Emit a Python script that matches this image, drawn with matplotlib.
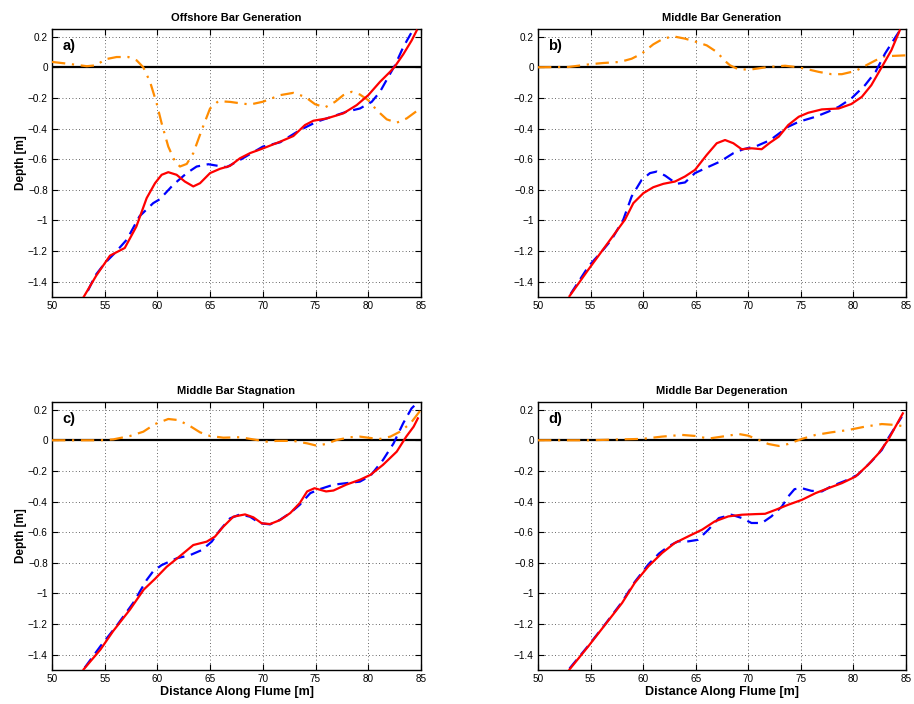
import matplotlib
matplotlib.use("Agg")
import matplotlib.pyplot as plt
from matplotlib.ticker import FuncFormatter

plt.rcParams['font.family'] = ['Liberation Sans', 'DejaVu Sans']

titles = ["Offshore Bar Generation", "Middle Bar Generation",
          "Middle Bar Stagnation", "Middle Bar Degeneration"]
panel_tags = ["a)", "b)", "c)", "d)"]

# ---- a) Offshore Bar Generation ----
a_red_x = [53.0, 54.2, 55.5, 56.9, 58.0, 58.98, 59.77, 60.4, 61.03, 61.82, 62.6, 63.4,
           64.04, 64.99, 65.93, 66.88, 67.83, 68.8, 70.0, 71.63, 72.89, 74.0, 74.79,
           76.06, 77.63, 78.9, 80.0, 81.11, 82.06, 82.53, 83.32, 84.12, 84.59]
a_red_y = [-1.50, -1.36, -1.23, -1.18, -1.04, -0.854, -0.757, -0.702, -0.685, -0.702,
           -0.746, -0.778, -0.757, -0.691, -0.663, -0.644, -0.594, -0.56, -0.53,
           -0.486, -0.449, -0.377, -0.349, -0.334, -0.301, -0.247, -0.182, -0.095,
           -0.03, 0.006, 0.085, 0.176, 0.24]
a_blue_x = [53.4, 54.1, 55.0, 56.0, 57.1, 58.3, 59.6, 60.24, 61.5, 62.78, 63.72, 64.83,
            65.78, 66.57, 67.83, 70.0, 71.63, 73.52, 75.1, 77.95, 79.21, 80.32, 81.11,
            81.9, 82.53, 83.32, 84.12, 84.6]
a_blue_y = [-1.46, -1.36, -1.28, -1.21, -1.125, -0.973, -0.887, -0.861, -0.767, -0.691,
            -0.648, -0.633, -0.644, -0.652, -0.605, -0.518, -0.49, -0.41, -0.356,
            -0.29, -0.269, -0.226, -0.16, -0.063, 0.013, 0.132, 0.23, 0.27]
a_or_x = [50.0, 51.4, 53.3, 54.2, 55.03, 56.13, 57.24, 58.03, 58.66, 59.3, 59.93, 60.4,
          61.03, 61.67, 62.14, 62.78, 63.4, 64.2, 64.99, 65.78, 66.9, 67.83, 68.8,
          70.0, 71.63, 72.89, 74.0, 74.95, 75.89, 76.84, 77.63, 78.43, 79.21, 80.0,
          80.8, 81.75, 82.69, 83.64, 84.59, 85.0]
a_or_y = [0.035, 0.024, 0.007, 0.013, 0.052, 0.067, 0.067, 0.045, 0.0, -0.095, -0.236,
          -0.366, -0.518, -0.616, -0.648, -0.631, -0.561, -0.41, -0.269, -0.221,
          -0.226, -0.235, -0.243, -0.225, -0.182, -0.167, -0.193, -0.241, -0.262,
          -0.226, -0.182, -0.16, -0.178, -0.215, -0.28, -0.34, -0.362, -0.334,
          -0.286, -0.28]

# ---- b) Middle Bar Generation ----
b_red_x = [53.0, 54.8, 56.4, 58.27, 59.07, 60.02, 60.97, 61.92, 63.03, 63.98, 64.93,
           66.05, 67.0, 67.79, 68.58, 69.37, 70.32, 71.27, 72.07, 72.9, 73.8, 74.8,
           75.7, 77.0, 78.6, 79.8, 80.8, 81.7, 82.7, 83.6, 84.4]
b_red_y = [-1.494, -1.32, -1.17, -0.995, -0.887, -0.822, -0.783, -0.761, -0.746,
           -0.713, -0.67, -0.572, -0.496, -0.475, -0.496, -0.535, -0.529, -0.535,
           -0.492, -0.453, -0.377, -0.323, -0.297, -0.275, -0.269, -0.24, -0.193,
           -0.117, 0.002, 0.11, 0.24]
b_blue_x = [53.1, 54.8, 56.1, 57.0, 58.11, 58.91, 59.86, 60.65, 61.29, 62.08, 63.19,
            63.98, 64.93, 66.05, 67.31, 68.58, 69.53, 70.8, 72.07, 73.8, 74.8, 76.4,
            77.6, 78.6, 79.8, 81.1, 82.1, 83.0, 84.0, 84.6]
b_blue_y = [-1.48, -1.30, -1.2, -1.125, -0.995, -0.843, -0.735, -0.691, -0.681, -0.707,
            -0.761, -0.752, -0.691, -0.655, -0.616, -0.561, -0.535, -0.514, -0.476,
            -0.388, -0.356, -0.323, -0.29, -0.258, -0.204, -0.117, -0.03, 0.089,
            0.197, 0.26]
b_or_x = [50.0, 52.9, 54.95, 56.21, 57.8, 58.91, 59.86, 60.97, 61.92, 62.87, 63.98,
          65.09, 66.05, 67.0, 67.79, 68.26, 69.05, 70.16, 71.9, 73.5, 74.5, 75.4,
          76.7, 77.9, 78.9, 80.2, 81.1, 82.1, 83.0, 85.0]
b_or_y = [0.0, 0.002, 0.02, 0.028, 0.035, 0.056, 0.089, 0.15, 0.187, 0.202, 0.187,
          0.165, 0.143, 0.1, 0.041, 0.013, -0.013, -0.015, 0.002, 0.01, 0.002,
          -0.009, -0.03, -0.045, -0.045, -0.024, 0.009, 0.045, 0.072, 0.078]

# ---- c) Middle Bar Stagnation ----
c_red_x = [53.0, 54.6, 55.8, 57.4, 58.7, 59.77, 60.88, 62.14, 63.4, 64.67, 65.46,
           66.25, 67.2, 68.31, 69.1, 69.89, 70.68, 71.63, 72.6, 73.5, 74.2, 74.9,
           76.0, 76.7, 77.9, 79.2, 80.2, 81.4, 82.7, 83.6, 84.3, 84.7]
c_red_y = [-1.496, -1.366, -1.246, -1.105, -0.975, -0.905, -0.826, -0.756, -0.684,
           -0.662, -0.629, -0.564, -0.499, -0.484, -0.503, -0.542, -0.547, -0.521,
           -0.475, -0.41, -0.334, -0.313, -0.334, -0.328, -0.29, -0.258, -0.226,
           -0.16, -0.074, 0.024, 0.089, 0.143]
c_blue_x = [53.1, 54.6, 56.1, 57.7, 58.98, 59.6, 60.4, 61.82, 63.09, 64.2, 65.15,
            65.94, 66.88, 67.83, 68.78, 69.73, 70.68, 71.6, 72.6, 73.5, 74.5, 75.4,
            76.7, 77.9, 79.2, 80.2, 81.4, 82.4, 83.3, 84.1, 84.5]
c_blue_y = [-1.485, -1.344, -1.214, -1.062, -0.912, -0.855, -0.815, -0.771, -0.75,
            -0.717, -0.662, -0.586, -0.51, -0.484, -0.499, -0.542, -0.549, -0.52,
            -0.475, -0.421, -0.345, -0.319, -0.29, -0.28, -0.27, -0.232, -0.128,
            -0.02, 0.11, 0.208, 0.235]
c_or_x = [50.0, 54.6, 55.82, 57.4, 58.66, 59.77, 61.03, 61.98, 63.09, 64.04, 64.99,
          66.25, 67.83, 69.42, 70.37, 71.3, 72.9, 74.2, 75.1, 76.0, 77.0, 78.3, 79.2,
          80.2, 81.1, 82.1, 83.0, 84.0, 85.0]
c_or_y = [0.0, 0.0, 0.006, 0.028, 0.056, 0.106, 0.139, 0.132, 0.093, 0.052, 0.028,
          0.017, 0.02, 0.002, -0.009, -0.004, -0.004, -0.02, -0.035, -0.024, 0.002,
          0.02, 0.024, 0.015, 0.009, 0.024, 0.056, 0.11, 0.2]

# ---- d) Middle Bar Degeneration ----
d_red_x = [53.0, 54.8, 56.4, 58.0, 59.2, 60.5, 61.8, 63.0, 64.3, 65.6, 66.8, 68.1,
           69.4, 70.7, 71.6, 72.6, 73.8, 75.1, 76.4, 77.6, 78.9, 80.2, 81.4, 82.4,
           83.3, 84.0, 84.7]
d_red_y = [-1.496, -1.344, -1.203, -1.062, -0.931, -0.823, -0.736, -0.671, -0.627,
           -0.584, -0.53, -0.497, -0.486, -0.482, -0.48, -0.454, -0.421, -0.389,
           -0.345, -0.313, -0.28, -0.237, -0.16, -0.085, 0.002, 0.089, 0.176]
d_blue_x = [53.0, 54.8, 56.4, 58.0, 59.2, 60.5, 61.5, 62.4, 63.3, 64.3, 65.2, 66.2,
            67.2, 68.4, 69.4, 70.3, 71.3, 72.2, 73.2, 73.8, 74.4, 75.1, 76.0, 77.0,
            77.9, 79.2, 80.4, 81.7, 82.7, 83.3, 84.0, 84.6]
d_blue_y = [-1.49, -1.34, -1.20, -1.055, -0.925, -0.81, -0.74, -0.693, -0.66, -0.66,
            -0.65, -0.584, -0.508, -0.486, -0.508, -0.54, -0.54, -0.497, -0.432,
            -0.367, -0.319, -0.313, -0.33, -0.334, -0.3, -0.265, -0.226, -0.139,
            -0.063, 0.013, 0.089, 0.154]
d_or_x = [50.0, 54.8, 58.0, 59.9, 61.8, 63.7, 65.0, 66.2, 67.5, 69.1, 70.0, 71.0,
          71.9, 72.9, 73.8, 75.1, 76.4, 77.9, 79.5, 81.1, 82.7, 84.0, 85.0]
d_or_y = [0.0, 0.0, 0.006, 0.009, 0.024, 0.035, 0.028, 0.011, 0.024, 0.041, 0.03,
          0.002, -0.024, -0.037, -0.024, 0.009, 0.035, 0.052, 0.067, 0.089, 0.106,
          0.1, 0.089]

panels = [
    (a_red_x, a_red_y, a_blue_x, a_blue_y, a_or_x, a_or_y),
    (b_red_x, b_red_y, b_blue_x, b_blue_y, b_or_x, b_or_y),
    (c_red_x, c_red_y, c_blue_x, c_blue_y, c_or_x, c_or_y),
    (d_red_x, d_red_y, d_blue_x, d_blue_y, d_or_x, d_or_y),
]

x_ticks = [50, 55, 60, 65, 70, 75, 80, 85]
y_ticks = [0.2, 0, -0.2, -0.4, -0.6, -0.8, -1.0, -1.2, -1.4]

fig = plt.figure(figsize=(9.14, 7.04), dpi=100)
W, H = 914, 704
boxes = [(52, 29, 421, 297), (538, 29, 906, 297),
         (52, 402, 421, 670), (538, 402, 906, 670)]


def fmt(v, _):
    s = "%g" % round(v, 3)
    return s.replace("-", "\u2212")


for i, (box, data) in enumerate(zip(boxes, panels)):
    l, t, r, b = box
    ax = fig.add_axes([l / W, 1 - b / H, (r - l) / W, (b - t) / H])
    rx, ry, bx, by, ox, oy = data
    ax.axhline(0, color="black", lw=1.6, zorder=2)
    ax.plot(ox, oy, color="#ff8c00", lw=1.6, ls=(0, (6, 3, 1, 3)), zorder=3)
    ax.plot(bx, by, color="#0000ff", lw=1.6, ls=(0, (5, 3)), zorder=4)
    ax.plot(rx, ry, color="#ff0000", lw=1.6, zorder=5)
    ax.set_xlim(50, 85)
    ax.set_ylim(-1.5, 0.25)
    ax.set_xticks(x_ticks)
    ax.set_yticks(y_ticks)
    ax.xaxis.set_major_formatter(FuncFormatter(fmt))
    ax.yaxis.set_major_formatter(FuncFormatter(fmt))
    ax.grid(True, color="black", ls=(0, (1, 3)), lw=0.6, alpha=0.8)
    ax.tick_params(direction="in", length=4, width=0.8, labelsize=7.2,
                   top=True, right=True, pad=3)
    for sp in ax.spines.values():
        sp.set_linewidth(1.0)
    ax.set_title(titles[i], fontsize=8, fontweight="bold", pad=6)
    ax.text(51.0, 0.14, panel_tags[i], fontsize=10.5, fontweight="bold",
            va="center", ha="left")
    if i % 2 == 0:
        ax.set_ylabel("Depth [m]", fontsize=8.5, fontweight="bold", labelpad=1)
    if i >= 2:
        ax.set_xlabel("Distance Along Flume [m]", fontsize=9, fontweight="bold",
                      labelpad=1)

fig.savefig("out.png", dpi=100)
